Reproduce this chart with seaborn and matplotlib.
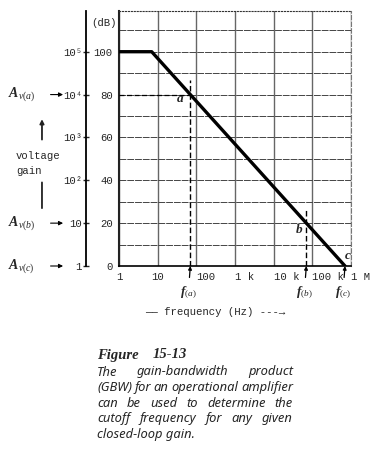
import matplotlib
matplotlib.use('Agg')
import matplotlib.pyplot as plt
import matplotlib.ticker as mticker
import seaborn as sns

# open-loop response of the op-amp
freq_hz = [1, 7, 700000]
gain_db = [100, 100, 0]

# marked points a, b, c
point_names = ['a', 'b', 'c']
point_freq = [70, 70000, 700000]
point_db = [80, 20, 0]
guide_top_db = [87, 26]   # dashed verticals at a and b reach up to here

x_ticks = [1, 10, 100, 1000, 10000, 100000, 1000000]
x_labels = ['1', '10', '100', '1 k', '10 k', '100 k', '1 M']
db_ticks = [0, 20, 40, 60, 80, 100]
db_labels = ['0', '20', '40', '60', '80', '100']
av_tick_labels = ['1', '10', '10²', '10³', '10⁴', '10⁵']

av_names = [r'$\mathbf{A}_{\mathit{v(a)}}$', r'$\mathbf{A}_{\mathit{v(b)}}$', r'$\mathbf{A}_{\mathit{v(c)}}$']
av_db = [80, 20, 0]
f_names = [r'$\mathbf{f}_{\mathit{(a)}}$', r'$\mathbf{f}_{\mathit{(b)}}$', r'$\mathbf{f}_{\mathit{(c)}}$']

caption_title = ['Figure', '15-13']
caption_lines = ['The gain-bandwidth product',
                 '(GBW) for an operational amplifier',
                 'can be used to determine the',
                 'cutoff frequency for any given',
                 'closed-loop gain.']

sns.set_style('white')
plt.rcParams['font.family'] = ['Liberation Mono', 'DejaVu Sans Mono']
plt.rcParams['mathtext.fontset'] = 'custom'
plt.rcParams['mathtext.rm'] = 'Liberation Serif'
plt.rcParams['mathtext.it'] = 'Liberation Serif:italic'
plt.rcParams['mathtext.bf'] = 'Liberation Serif:bold:italic'

W, H = 375, 449
fig = plt.figure(figsize=(W / 100, H / 100), dpi=100)
ax = fig.add_axes([119 / W, 1 - 266 / H, 232 / W, 255 / H])

fs = 7.7

# gain curve
sns.lineplot(x=freq_hz, y=gain_db, color='black', lw=2.4, ax=ax, zorder=5)

ax.set_xscale('log')
ax.set_xlim(1, 1e6)
ax.set_ylim(0, 119)
ax.set_xticks(x_ticks, labels=x_labels)
ax.xaxis.set_minor_locator(mticker.NullLocator())
ax.set_yticks(db_ticks, labels=db_labels)
ax.set_yticks(list(range(10, 120, 20)), minor=True)
ax.tick_params(axis='x', length=3, width=1, pad=1, labelsize=fs, color='#444')
ax.tick_params(axis='y', which='both', length=0, pad=4.5, labelsize=fs)
for lbl, t in zip(ax.get_xticklabels(), x_ticks):
    if t >= 100:
        lbl.set_horizontalalignment('left')

ax.grid(axis='x', color='#666', lw=1.0, ls='-')
ax.grid(axis='y', which='both', color='#444', lw=0.7, ls=(0, (7, 1)))
ax.set_axisbelow(True)

ax.spines['left'].set_linewidth(1.5)
ax.spines['left'].set_color('#222')
ax.spines['bottom'].set_linewidth(1.2)
ax.spines['bottom'].set_color('black')
ax.spines['top'].set_linestyle(':')
ax.spines['top'].set_color('#333')
ax.spines['right'].set_linestyle((0, (4, 2)))
ax.spines['right'].set_color('#777')

# dashed guides at a and b
ax.hlines(point_db[0], freq_hz[0], point_freq[0], colors='black', linestyles=(0, (4, 2)), lw=0.9, zorder=4)
ax.vlines(point_freq[:2], 0, guide_top_db, colors='black', linestyles=(0, (4, 2)), lw=1.0, zorder=4)

# point labels
offsets = [(-7, -3), (-5, -5), (2, 7)]
for name, f, g, off in zip(point_names, point_freq, point_db, offsets):
    ax.annotate(name, xy=(f, g), xytext=off, textcoords='offset points',
                ha='center', va='center', fontsize=9.5, fontfamily='Liberation Serif',
                fontweight='bold', fontstyle='italic')

# f(a), f(b), f(c) with arrows up to the axis
for name, f in zip(f_names, point_freq):
    ax.annotate(name, xy=(f, 0), xytext=(-1.5, -19.5), textcoords='offset points',
                ha='center', va='center', fontsize=9.5, annotation_clip=False,
                arrowprops=dict(arrowstyle='-|>', color='black', lw=0.9,
                                mutation_scale=5, shrinkA=3, shrinkB=0))

ax.text(0.414, -0.18, '—— frequency (Hz) ---→', transform=ax.transAxes,
        ha='center', va='center', fontsize=fs)
ax.text(-0.01, 113.5, '(dB)', transform=ax.get_yaxis_transform(),
        ha='right', va='center', fontsize=fs)

# voltage gain axis
sec = ax.secondary_yaxis(-0.142)
sec.set_yticks(db_ticks, labels=av_tick_labels)
sec.tick_params(axis='y', direction='inout', length=5, width=1, pad=0.5, labelsize=fs)
sec.spines['left'].set_linewidth(1.3)
sec.spines['left'].set_color('black')

blend = ax.get_yaxis_transform()
for name, g in zip(av_names, av_db):
    ax.annotate('', xy=(-0.241, g), xytext=(-0.295, g), xycoords=blend, textcoords=blend,
                arrowprops=dict(arrowstyle='-|>', color='black', lw=0.8, mutation_scale=6,
                                shrinkA=0, shrinkB=0))
    ax.text(-0.362, g, name, transform=blend, ha='right', va='center', fontsize=10)

ax.text(-0.444, 48, 'voltage\ngain', transform=blend, ha='left', va='center',
        fontsize=fs, linespacing=1.6)
ax.annotate('', xy=(-0.332, 68.5), xytext=(-0.332, 59), xycoords=blend, textcoords=blend,
            arrowprops=dict(arrowstyle='-|>', color='#222', lw=1.3, mutation_scale=6,
                            shrinkA=0, shrinkB=0))
ax.annotate('', xy=(-0.332, 27), xytext=(-0.332, 39), xycoords=blend, textcoords=blend,
            arrowprops=dict(arrowstyle='-', color='#222', lw=1.3, shrinkA=0, shrinkB=0))

# caption
title_kw = dict(fontfamily='Liberation Serif', fontweight='bold', fontstyle='italic',
                fontsize=10.5, va='center')
fig.text(97 / W, 1 - 355 / H, caption_title[0], **title_kw)
fig.text(153 / W, 1 - 355 / H, caption_title[1], **title_kw)

body_kw = dict(fontfamily=['Noto Sans', 'DejaVu Sans'], fontstyle='italic', fontsize=9.3, va='center')
renderer = fig.canvas.get_renderer()
left_px, right_px = 97, 293
for i, line in enumerate(caption_lines):
    y = 1 - (372 + 15.6 * i) / H
    if i == len(caption_lines) - 1:
        fig.text(left_px / W, y, line, **body_kw)
        continue
    words = line.split()
    texts = [fig.text(0, y, w, **body_kw) for w in words]
    widths = [t.get_window_extent(renderer).width for t in texts]
    gap = (right_px - left_px - sum(widths)) / (len(words) - 1)
    x = left_px
    for t, w in zip(texts, widths):
        t.set_x(x / W)
        x += w + gap

fig.savefig('out.png', dpi=100)
